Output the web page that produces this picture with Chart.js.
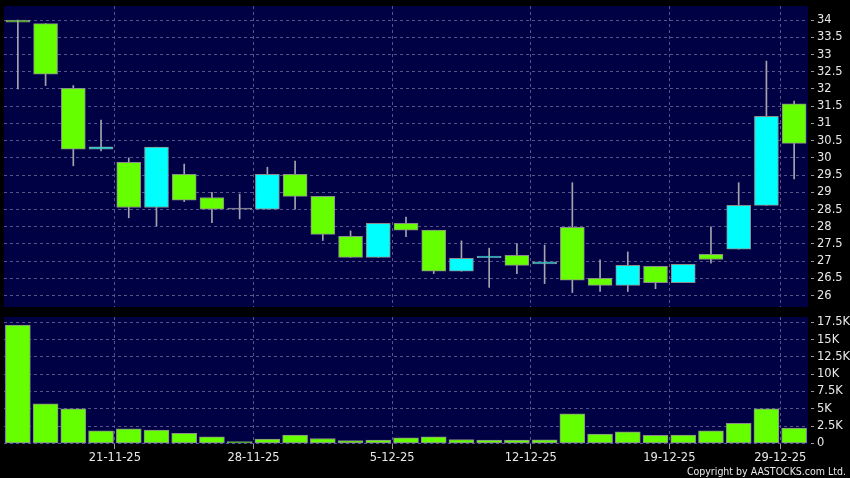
<!DOCTYPE html>
<html>
<head>
<meta charset="utf-8">
<script src="https://cdn.jsdelivr.net/npm/chart.js@4.4.1/dist/chart.umd.min.js"></script>
<style>
  html, body { margin: 0; padding: 0; background: #000; }
  #wrap { position: relative; width: 850px; height: 478px; overflow: hidden; background: #000; }
  #price { position: absolute; left: 0; top: 0; }
  #vol { position: absolute; left: 0; top: 312px; }
  #copy { position: absolute; right: 4px; top: 465px; line-height: 12px; color: #e8e8e8;
          font-family: "DejaVu Sans Condensed", "DejaVu Sans", sans-serif; font-stretch: condensed; font-size: 10.5px; white-space: nowrap; }
</style>
</head>
<body>
<div id="wrap">
  <canvas id="price" width="850" height="312"></canvas>
  <canvas id="vol" width="850" height="166"></canvas>
  <div id="copy">Copyright by AASTOCKS.com Ltd.</div>
</div>
<script>
// trading days
var dates = ['18-11-25','19-11-25','20-11-25','21-11-25','24-11-25','25-11-25','26-11-25','27-11-25','28-11-25',
  '1-12-25','2-12-25','3-12-25','4-12-25','5-12-25','8-12-25','9-12-25','10-12-25','11-12-25','12-12-25',
  '15-12-25','16-12-25','17-12-25','18-12-25','19-12-25','22-12-25','23-12-25','24-12-25','29-12-25','30-12-25'];

var openP  = [34.0, 33.9, 32.02, 30.25, 29.87, 28.56, 29.52, 28.85, 28.51, 28.51, 29.52, 28.88, 27.72, 27.11, 28.1,
  27.9, 26.71, 27.1, 27.17, 26.92, 27.98, 26.5, 26.3, 26.85, 26.38, 27.2, 27.35, 28.62, 31.57];
var highP  = [34.0, 33.9, 32.1, 31.1, 30.0, 30.31, 29.82, 29.0, 28.95, 29.73, 29.91, 28.88, 27.88, 28.1, 28.28,
  27.9, 27.59, 27.38, 27.51, 27.47, 29.28, 27.04, 27.27, 26.85, 26.91, 28.0, 29.28, 32.81, 31.65];
var lowP   = [32.0, 32.1, 29.77, 30.2, 28.26, 28.02, 28.73, 28.12, 28.23, 28.51, 28.51, 27.6, 27.11, 27.11, 27.71,
  26.64, 26.71, 26.24, 26.64, 26.35, 26.09, 26.12, 26.12, 26.2, 26.38, 26.94, 27.35, 28.62, 29.39];
var closeP = [33.94, 32.43, 30.25, 30.32, 28.56, 30.31, 28.77, 28.51, 28.51, 29.52, 28.88, 27.78, 27.11, 28.1, 27.9,
  26.71, 27.08, 27.15, 26.88, 26.98, 26.45, 26.3, 26.88, 26.38, 26.91, 27.05, 28.62, 31.21, 30.42];

var volume = [17100, 5700, 5000, 1800, 2100, 1900, 1450, 950, 250, 600, 1200, 700, 400, 450, 800,
  950, 550, 450, 450, 500, 4250, 1350, 1650, 1150, 1200, 1800, 2900, 5000, 2200];

var tickDates = ['21-11-25','28-11-25','5-12-25','12-12-25','19-12-25','29-12-25'];
var priceTicks = [26, 26.5, 27, 27.5, 28, 28.5, 29, 29.5, 30, 30.5, 31, 31.5, 32, 32.5, 33, 33.5, 34];
var volTicks = [0, 2500, 5000, 7500, 10000, 12500, 15000, 17500];

var GREEN = '#66ff00', CYAN = '#00ffff', GRID = '#55558a', FONT = 'DejaVu Sans';

// date ticks sit on the boundary right after that day's candle
var tickPos = tickDates.map(function(d) { return dates.indexOf(d) + 0.5; });

var areaBg = {
  id: 'areaBg',
  beforeDraw: function(chart) {
    var a = chart.chartArea, c = chart.ctx;
    c.save();
    c.fillStyle = '#000044';
    c.fillRect(a.left, a.top, a.right - a.left, a.bottom - a.top);
    c.restore();
  }
};

var bodies = [], wicks = [], bodyColors = [];
for (var i = 0; i < dates.length; i++) {
  bodies.push({ x: i, y: [openP[i], closeP[i]] });
  wicks.push({ x: i, y: [lowP[i], highP[i]] });
  if (closeP[i] < openP[i]) bodyColors.push(GREEN);
  else if (closeP[i] > openP[i]) bodyColors.push(CYAN);
  else bodyColors.push('#9a9aa6');
}
var volData = volume.map(function(v, i) { return { x: i, y: v }; });

function noPad(s) {
  s.paddingTop = 0; s.paddingBottom = 0; s.paddingLeft = 0; s.paddingRight = 0;
}

function xScale(showLabels) {
  return {
    type: 'linear', min: -0.5, max: 28.5, offset: false,
    afterBuildTicks: function(s) { s.ticks = tickPos.map(function(v) { return { value: v }; }); },
    afterFit: function(s) { s.height = showLabels ? 34 : 0; noPad(s); },
    border: { display: false, dash: [3, 3] },
    grid: { color: GRID, offset: false, drawTicks: showLabels, tickLength: 5, tickColor: '#9a9a9a', tickBorderDash: [] },
    ticks: {
      display: showLabels, autoSkip: false, maxRotation: 0, padding: 2,
      color: '#e8e8e8', font: { family: FONT, size: 11.5 },
      callback: function(v) { var k = tickPos.indexOf(v); return k >= 0 ? tickDates[k] : ''; }
    }
  };
}

function yScale(min, max, list, fmt) {
  return {
    position: 'right', min: min, max: max,
    afterBuildTicks: function(s) { s.ticks = list.map(function(v) { return { value: v }; }); },
    afterFit: function(s) { s.width = 42; noPad(s); },
    border: { display: false, dash: [3, 3] },
    grid: { color: GRID, tickLength: 7, tickColor: '#9a9a9a', tickBorderDash: [3, 3], tickBorderDashOffset: 3 },
    ticks: { color: '#e8e8e8', padding: 2, font: { family: FONT, size: 11.5 }, callback: fmt }
  };
}

new Chart(document.getElementById('price').getContext('2d'), {
  type: 'bar',
  data: {
    datasets: [
      { data: bodies, backgroundColor: bodyColors, borderColor: '#8c8c8c', borderWidth: 1, borderSkipped: false,
        barThickness: 24, minBarLength: 1, grouped: false, order: 0 },
      { data: wicks, backgroundColor: '#a4a4ae', borderWidth: 0, barThickness: 1, grouped: false, order: 1 }
    ]
  },
  options: {
    responsive: false, animation: false, devicePixelRatio: 1,
    layout: { padding: { left: 4, top: 6, right: 0, bottom: 5 } },
    plugins: { legend: { display: false }, tooltip: { enabled: false } },
    scales: {
      x: xScale(false),
      y: yScale(25.67, 34.41, priceTicks, function(v) { return String(v); })
    }
  },
  plugins: [areaBg]
});

new Chart(document.getElementById('vol').getContext('2d'), {
  type: 'bar',
  data: {
    datasets: [
      { data: volData, backgroundColor: GREEN, borderColor: '#8c8c8c', borderWidth: 1, borderSkipped: false,
        barThickness: 25, grouped: false }
    ]
  },
  options: {
    responsive: false, animation: false, devicePixelRatio: 1,
    layout: { padding: { left: 4, top: 5, right: 0, bottom: 0 } },
    plugins: { legend: { display: false }, tooltip: { enabled: false } },
    scales: {
      x: xScale(true),
      y: yScale(-100, 18270, volTicks, function(v) { return v === 0 ? '0' : (v / 1000) + 'K'; })
    }
  },
  plugins: [areaBg]
});
</script>
</body>
</html>
